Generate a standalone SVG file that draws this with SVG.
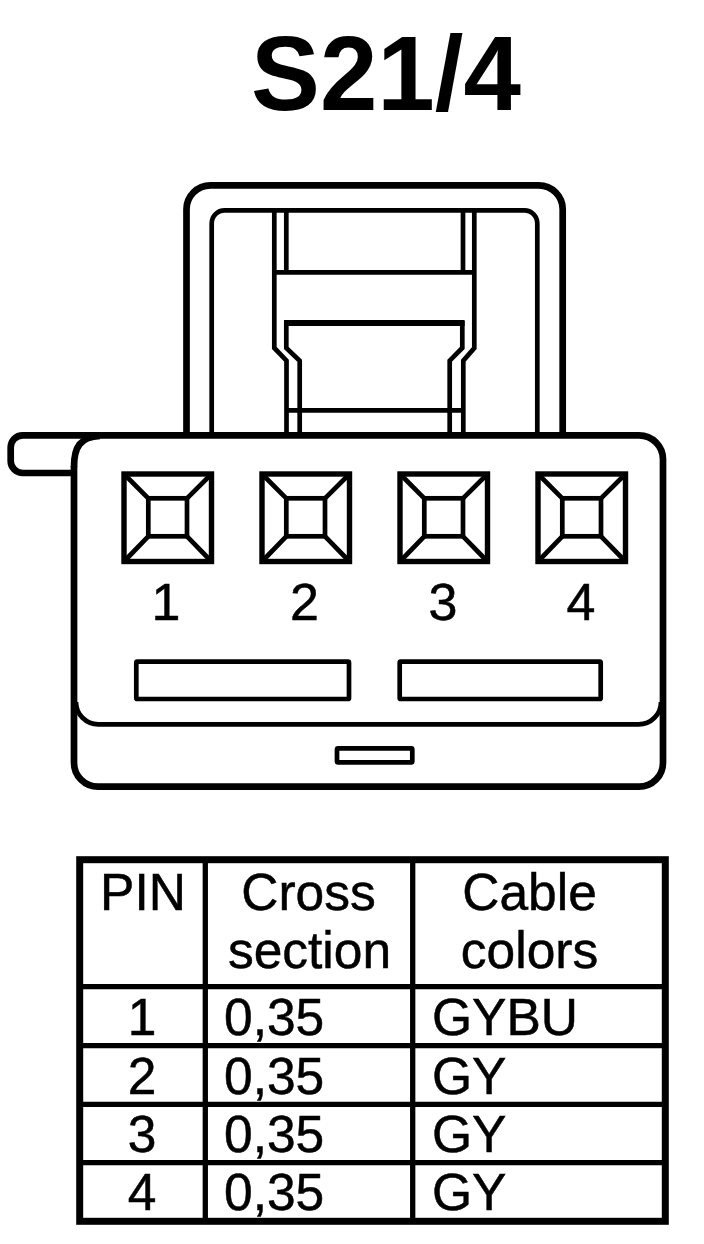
<svg xmlns="http://www.w3.org/2000/svg" width="704" height="1244" viewBox="0 0 704 1244">
<style>
.l{fill:none;stroke:#000;stroke-width:4.7}
.h{fill:none;stroke:#000;stroke-width:6.700}
.g{fill:none;stroke:#000;stroke-width:5.300}
.t{font-family:"Liberation Sans",Arial,sans-serif;font-size:51.500px;fill:#000;stroke:#000;stroke-width:.5}
.d{font-size:52px;text-anchor:middle}
.c{text-anchor:middle}
</style>
<defs>
<g id="pin">
<rect class="l" x="124" y="474" width="87.5" height="87.5" style="stroke-width:5.4"/>
<rect class="l" x="148.3" y="498.3" width="38.7" height="38"/>
<path class="l" d="M124 474L148.3 498.3M211.5 474L187 498.3M124 561.5L148.3 536.3M211.5 561.5L187 536.3"/>
</g>
</defs>
<rect width="704" height="1244" fill="#fff"/>
<text x="386" y="109.500" text-anchor="middle" textLength="270" lengthAdjust="spacingAndGlyphs" style="font-family:'Liberation Sans',Arial,sans-serif;font-size:106px;font-weight:bold;fill:#000">S21/4</text>
<g id="latch">
<path class="h" d="M186.500 435V209.300A24 24 0 0 1 210.500 185.300H538.700A24 24 0 0 1 562.700 209.300V435"/>
<path class="l" d="M211.700 435V223.300A13 13 0 0 1 224.700 210.300H524.300A13 13 0 0 1 537.300 223.300V435"/>
<path class="l" d="M274.300 210V348L286.500 360.700V435M474.300 210V348L463.300 360.700V435"/>
<path class="l" d="M286.300 210V272M463 210V272M274 272.300H475"/>
<path class="h" d="M284 323H464.600" style="stroke-width:6"/>
<path class="l" d="M286.300 321V348L299.700 360.700V435M462.300 321V348L449.700 360.700V435M286 410.300H463"/>
</g>
<g id="body">
<path class="h" d="M74 466V762.700A24 24 0 0 0 98 786.700H639A24 24 0 0 0 663 762.700V459.300A24 24 0 0 0 639 435.300H22.700A12 12 0 0 0 10.700 447.300V461A12 12 0 0 0 22.700 473H74"/>
<path class="h" d="M74 467C74 447 80 437 100 436"/>
<path class="l" d="M76 702A22.300 22.300 0 0 0 98.300 724.300H638.700A22.300 22.300 0 0 0 661 702"/>
<rect class="l" x="136.300" y="661.700" width="212.700" height="37.300" rx="1"/>
<rect class="l" x="399.700" y="661.700" width="201" height="37.300" rx="1"/>
<rect class="l" x="337" y="748.300" width="75.300" height="14" rx="1"/>
</g>
<g id="pins">
<g id="pin1"><use href="#pin"/><text class="t d" x="166" y="620">1</text></g>
<g id="pin2"><use href="#pin" x="138"/><text class="t d" x="304.500" y="620">2</text></g>
<g id="pin3"><use href="#pin" x="276"/><text class="t d" x="443" y="620">3</text></g>
<g id="pin4"><use href="#pin" x="414"/><text class="t d" x="581" y="620">4</text></g>
</g>
<g id="table">
<rect class="h" x="79.700" y="859.700" width="585.600" height="361.600" style="stroke-width:7"/>
<path class="g" d="M205.300 860V1222M412.700 860V1222M80 986.700H665M80 1045.700H665M80 1104.300H665M80 1162.700H665"/>
<text class="t c" x="143" y="910">PIN</text>
<text class="t c" x="308.500" y="910">Cross</text>
<text class="t c" x="309.500" y="968">section</text>
<text class="t c" x="529.500" y="910">Cable</text>
<text class="t c" x="529.500" y="968">colors</text>
<text class="t c" x="142" y="1035">1</text><text class="t" x="224" y="1035">0,35</text><text class="t" x="432" y="1035">GYBU</text>
<text class="t c" x="142" y="1094">2</text><text class="t" x="224" y="1094">0,35</text><text class="t" x="432" y="1094">GY</text>
<text class="t c" x="142" y="1152">3</text><text class="t" x="224" y="1152">0,35</text><text class="t" x="432" y="1152">GY</text>
<text class="t c" x="142" y="1210">4</text><text class="t" x="224" y="1210">0,35</text><text class="t" x="432" y="1210">GY</text>
</g>
</svg>
